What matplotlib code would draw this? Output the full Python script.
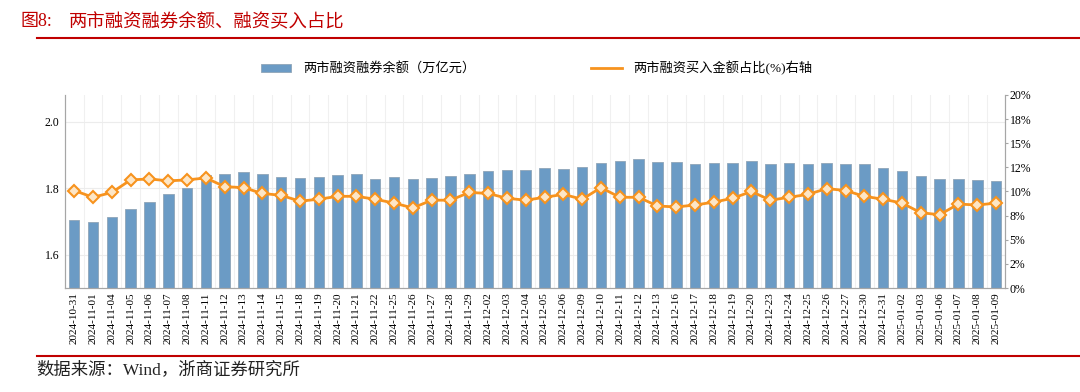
import matplotlib
matplotlib.use('Agg')
import matplotlib.pyplot as plt
from matplotlib.lines import Line2D
from matplotlib.patches import Patch
from matplotlib.ticker import FuncFormatter

plt.rcParams['font.family'] = ['Liberation Serif', 'Noto Sans CJK SC', 'DejaVu Sans']

# data
dates = ['2024-10-31', '2024-11-01', '2024-11-04', '2024-11-05', '2024-11-06',
         '2024-11-07', '2024-11-08', '2024-11-11', '2024-11-12', '2024-11-13',
         '2024-11-14', '2024-11-15', '2024-11-18', '2024-11-19', '2024-11-20',
         '2024-11-21', '2024-11-22', '2024-11-25', '2024-11-26', '2024-11-27',
         '2024-11-28', '2024-11-29', '2024-12-02', '2024-12-03', '2024-12-04',
         '2024-12-05', '2024-12-06', '2024-12-09', '2024-12-10', '2024-12-11',
         '2024-12-12', '2024-12-13', '2024-12-16', '2024-12-17', '2024-12-18',
         '2024-12-19', '2024-12-20', '2024-12-23', '2024-12-24', '2024-12-25',
         '2024-12-26', '2024-12-27', '2024-12-30', '2024-12-31', '2025-01-02',
         '2025-01-03', '2025-01-06', '2025-01-07', '2025-01-08', '2025-01-09']

balance = [1.704, 1.698, 1.714, 1.736, 1.759, 1.783, 1.800, 1.838, 1.842, 1.849,
           1.842, 1.833, 1.829, 1.833, 1.838, 1.841, 1.828, 1.834, 1.828, 1.831,
           1.836, 1.841, 1.852, 1.855, 1.855, 1.861, 1.859, 1.864, 1.876, 1.882,
           1.887, 1.879, 1.879, 1.873, 1.876, 1.876, 1.881, 1.874, 1.876, 1.874,
           1.876, 1.872, 1.874, 1.860, 1.853, 1.835, 1.827, 1.827, 1.823, 1.822]

buy_ratio = [10.1, 9.4, 9.9, 11.2, 11.3, 11.1, 11.2, 11.4, 10.5, 10.4,
             9.8, 9.6, 9.0, 9.2, 9.5, 9.5, 9.2, 8.8, 8.3, 9.1,
             9.1, 9.9, 9.8, 9.3, 9.1, 9.4, 9.7, 9.2, 10.4, 9.4,
             9.4, 8.5, 8.4, 8.6, 8.9, 9.3, 10.0, 9.1, 9.4, 9.7,
             10.3, 10.1, 9.5, 9.2, 8.8, 7.8, 7.6, 8.7, 8.6, 8.8]

bar_color = '#6b9bc5'
line_color = '#f7931e'
red = '#c00000'

fig = plt.figure(figsize=(10.8, 3.92), dpi=100)
ax = fig.add_axes([0.060, 0.265, 0.871, 0.493])
x = list(range(len(dates)))

ax.bar(x, balance, width=0.56, color=bar_color, edgecolor='#8fa5b8', linewidth=0.6, zorder=2)
ax.set_ylim(1.5, 2.08)
ax.set_xlim(-0.5, len(dates) - 0.5)
ax.set_yticks([1.6, 1.8, 2.0])
ax.yaxis.set_major_formatter(FuncFormatter(lambda v, p: f'{v:.1f}'))
ax.set_xticks(x)
ax.set_xticklabels(dates, rotation=90, fontsize=8)
ax.set_xticks([i + 0.5 for i in x[:-1]], minor=True)
ax.tick_params(axis='y', length=0, labelsize=8.5, pad=4)
ax.tick_params(axis='x', which='both', length=0, pad=3)
ax.grid(axis='y', color='#ececec', linewidth=0.8, zorder=0)
ax.grid(axis='x', which='minor', color='#f0f0f0', linewidth=0.8, zorder=0)
ax.spines['top'].set_visible(False)
for s in ['left', 'bottom', 'right']:
    ax.spines[s].set_color('#a6a6a6')
    ax.spines[s].set_linewidth(0.8)

ax2 = ax.twinx()
ax2.plot(x, buy_ratio, color=line_color, linewidth=2, marker='D', markersize=6,
         markerfacecolor='#fde6c6', markeredgecolor=line_color, markeredgewidth=1.5)
ax2.set_ylim(0, 20)
ax2.set_yticks([0, 2.5, 5, 7.5, 10, 12.5, 15, 17.5, 20])
ax2.yaxis.set_major_formatter(FuncFormatter(lambda v, p: f'{v:.0f}%'))
ax2.tick_params(axis='y', length=2, color='#a6a6a6', labelsize=8.5, pad=1)
ax2.spines['top'].set_visible(False)
for s in ['left', 'bottom', 'right']:
    ax2.spines[s].set_color('#a6a6a6')
    ax2.spines[s].set_linewidth(0.8)

handles = [Patch(facecolor=bar_color, edgecolor='#8fa5b8', linewidth=0.6),
           Line2D([0], [0], color=line_color, linewidth=2)]
labels = ['两市融资融券余额（万亿元）', '两市融资买入金额占比(%)右轴']
fig.legend(handles, labels, loc='center', bbox_to_anchor=(0.497, 0.826), ncol=2,
           frameon=False, fontsize=9.5, columnspacing=8.8, handlelength=2.3,
           handleheight=0.55, handletextpad=0.9)

# title and source
fig.text(0.019, 0.944, '图8:', color=red, fontsize=13, va='center', ha='left')
fig.text(0.064, 0.944, '两市融资融券余额、融资买入占比', color=red, fontsize=13.2,
         va='center', ha='left', family=['Noto Sans CJK SC'])
fig.add_artist(Line2D([0.034, 1.0], [0.903, 0.903], color=red, linewidth=1.5,
                      transform=fig.transFigure))
fig.add_artist(Line2D([0.034, 1.0], [0.092, 0.092], color=red, linewidth=1.5,
                      transform=fig.transFigure))
fig.text(0.034, 0.058, '数据来源：Wind，浙商证券研究所', fontsize=12.5, va='center',
         ha='left', color='#222222')

fig.savefig('out.png', dpi=100)
